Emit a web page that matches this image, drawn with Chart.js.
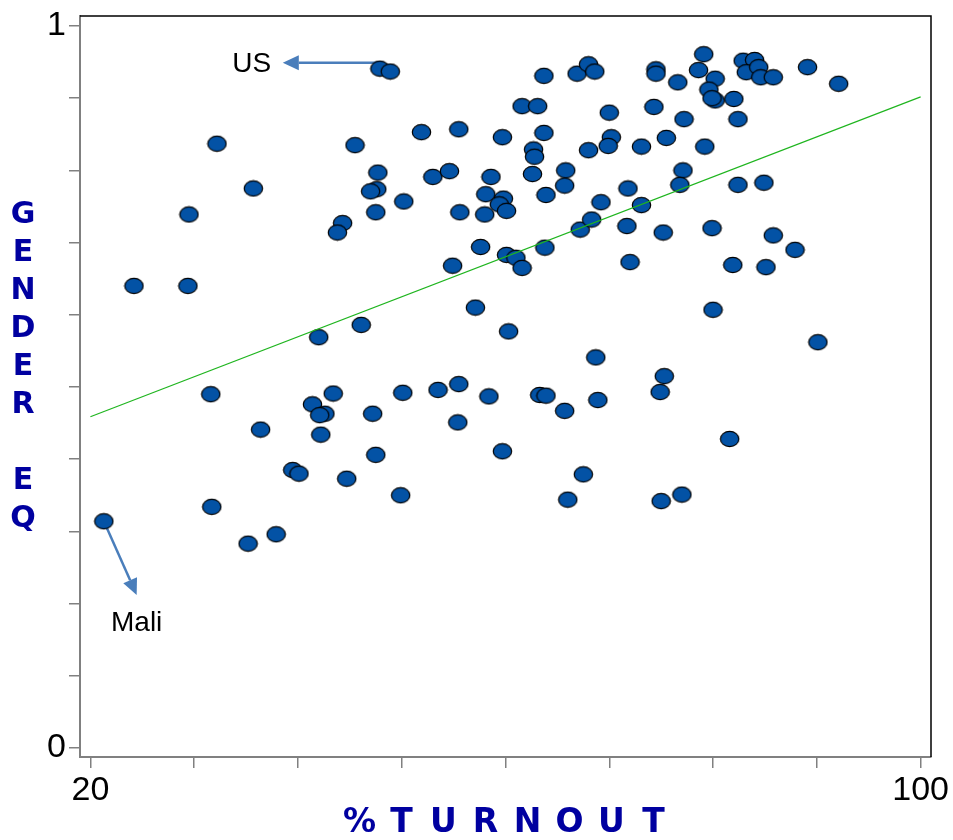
<!DOCTYPE html>
<html>
<head>
<meta charset="utf-8">
<script src="https://cdn.jsdelivr.net/npm/chart.js@4.4.1/dist/chart.umd.min.js"></script>
<style>
  html, body { margin: 0; padding: 0; background: #fff; }
  #wrap { width: 953px; height: 840px; position: relative; }
</style>
</head>
<body>
<div id="wrap"><canvas id="grafico"></canvas></div>
<script>
// datos
const turnout = [
  47.9, 48.9, 32.2, 35.7, 29.5, 24.2, 29.4, 45.5, 51.9, 55.5,
  47.7, 47.6, 47.0, 47.5, 50.2, 44.3, 43.8, 53.0, 54.6, 55.6,
  54.9, 63.7, 66.9, 68.0, 68.6, 74.5, 74.5, 76.6, 79.1, 78.6,
  80.2, 79.6, 80.2, 79.9, 82.0, 82.9, 84.0, 83.2, 84.4, 84.6,
  85.8, 89.1, 92.1, 61.6, 63.1, 70.0, 74.3, 77.2, 82.4, 59.7,
  63.7, 70.2, 69.9, 75.5, 62.7, 62.8, 68.0, 73.1, 79.2, 58.6,
  62.6, 65.8, 65.7, 63.9, 58.1, 59.8, 59.4, 60.1, 58.0, 71.8,
  69.2, 77.1, 76.8, 82.4, 84.9, 73.1, 71.7, 75.2, 79.9, 85.8,
  87.9, 67.2, 68.3, 57.6, 60.1, 61.0, 61.6, 63.8, 72.0, 81.9,
  85.1, 31.6, 42.0, 46.1, 57.1, 43.4, 41.4, 42.6, 42.1, 42.2,
  47.2, 50.1, 53.5, 55.5, 55.4, 36.4, 47.5, 39.5, 40.1, 44.7,
  49.9, 31.7, 21.3, 35.2, 37.9, 60.3, 68.7, 75.3, 74.9, 80.0,
  90.1, 58.4, 63.3, 63.9, 65.7, 68.9, 59.7, 67.5, 66.0, 75.0,
  77.0, 81.6
];
const genderEq = [
  0.941, 0.937, 0.837, 0.775, 0.739, 0.640, 0.640, 0.835, 0.853, 0.857,
  0.797, 0.774, 0.771, 0.742, 0.757, 0.727, 0.714, 0.791, 0.799, 0.742,
  0.668, 0.931, 0.934, 0.947, 0.937, 0.940, 0.934, 0.922, 0.961, 0.939,
  0.927, 0.912, 0.897, 0.900, 0.899, 0.952, 0.953, 0.936, 0.943, 0.929,
  0.929, 0.943, 0.920, 0.889, 0.889, 0.880, 0.888, 0.871, 0.871, 0.846,
  0.852, 0.846, 0.834, 0.845, 0.829, 0.819, 0.828, 0.833, 0.833, 0.791,
  0.795, 0.800, 0.779, 0.766, 0.767, 0.761, 0.753, 0.744, 0.739, 0.775,
  0.756, 0.800, 0.780, 0.780, 0.783, 0.752, 0.723, 0.714, 0.720, 0.710,
  0.690, 0.718, 0.732, 0.694, 0.683, 0.679, 0.665, 0.693, 0.673, 0.669,
  0.666, 0.490, 0.569, 0.586, 0.610, 0.491, 0.476, 0.463, 0.461, 0.434,
  0.463, 0.492, 0.496, 0.504, 0.451, 0.441, 0.406, 0.385, 0.380, 0.373,
  0.350, 0.334, 0.314, 0.283, 0.296, 0.577, 0.541, 0.515, 0.493, 0.607,
  0.562, 0.487, 0.489, 0.488, 0.467, 0.482, 0.411, 0.379, 0.344, 0.342,
  0.351, 0.428
];

// recta de ajuste
const trendX = [20, 100];
const trendY = [0.4588, 0.9018];

// ejes
const xTicks = [20, 30, 40, 50, 60, 70, 80, 90, 100];
const xLabels = ['20', '', '', '', '', '', '', '', '100'];
const yTicks = [0, 0.1, 0.2, 0.3, 0.4, 0.5, 0.6, 0.7, 0.8, 0.9, 1];
const yLabels = ['0', '', '', '', '', '', '', '', '', '', '1'];

// anotaciones (unidades de datos)
const notes = [
  { text: 'US', x: 35.55, y: 0.947, from: [47.9, 0.949], to: [38.54, 0.949] },
  { text: 'Mali', x: 24.46, y: 0.173, from: [21.3, 0.314], to: [24.46, 0.212] }
];

const yTitle = ['G', 'E', 'N', 'D', 'E', 'R', '', 'E', 'Q'];
const xTitle = ['%', 'T', 'U', 'R', 'N', 'O', 'U', 'T'];

const AZUL = '#0000a0';
const GRIS = '#808080';
const FUENTE_TITULO = '"DejaVu Sans", Verdana, sans-serif';

// marcador eliptico
function crearElipse() {
    const c = document.createElement('canvas');
    c.width = 21;
    c.height = 18;
    const g = c.getContext('2d');
    g.beginPath();
    g.ellipse(10.5, 9, 9.2, 7.6, 0, 0, Math.PI * 2);
    g.fillStyle = '#0352a5';
    g.fill();
    g.lineWidth = 1.2;
    g.strokeStyle = '#000';
    g.stroke();
    return c;
}

function flecha(ctx, x1, y1, x2, y2) {
    const ang = Math.atan2(y2 - y1, x2 - x1);
    const largo = 16, ancho = 7.5;
    const bx = x2 - Math.cos(ang) * largo;
    const by = y2 - Math.sin(ang) * largo;
    ctx.beginPath();
    ctx.moveTo(x1, y1);
    ctx.lineTo(bx, by);
    ctx.stroke();
    ctx.beginPath();
    ctx.moveTo(x2, y2);
    ctx.lineTo(bx + Math.sin(ang) * ancho, by - Math.cos(ang) * ancho);
    ctx.lineTo(bx - Math.sin(ang) * ancho, by + Math.cos(ang) * ancho);
    ctx.closePath();
    ctx.fill();
}

const anotaciones = {
    id: 'anotaciones',
    beforeDatasetsDraw(chart) {
        const { ctx, scales: { x, y } } = chart;
        ctx.save();
        ctx.strokeStyle = '#4a7ebb';
        ctx.fillStyle = '#4a7ebb';
        ctx.lineWidth = 2.5;
        notes.forEach(n => {
            flecha(ctx, x.getPixelForValue(n.from[0]), y.getPixelForValue(n.from[1]),
                x.getPixelForValue(n.to[0]), y.getPixelForValue(n.to[1]));
        });
        ctx.fillStyle = '#000';
        ctx.font = '28px "Liberation Sans", Arial, sans-serif';
        ctx.textAlign = 'center';
        ctx.textBaseline = 'middle';
        notes.forEach(n => {
            ctx.fillText(n.text, x.getPixelForValue(n.x), y.getPixelForValue(n.y));
        });
        ctx.restore();
    },
    afterDraw(chart) {
        const { ctx, chartArea: a } = chart;
        ctx.save();
        // marco superior y derecho
        ctx.strokeStyle = '#000';
        ctx.lineWidth = 1.5;
        ctx.beginPath();
        ctx.moveTo(a.left, a.top);
        ctx.lineTo(a.right, a.top);
        ctx.lineTo(a.right, a.bottom);
        ctx.stroke();

        // titulos de ejes
        ctx.fillStyle = AZUL;
        ctx.textAlign = 'center';
        ctx.textBaseline = 'middle';
        ctx.font = 'bold 30px ' + FUENTE_TITULO;
        yTitle.forEach((l, i) => {
            if (l) ctx.fillText(l, 23, 215 + i * 38);
        });
        ctx.font = 'bold 33px ' + FUENTE_TITULO;
        const cx = (a.left + a.right) / 2;
        xTitle.forEach((l, i) => {
            ctx.fillText(l, cx - 146 + i * 42, 823);
        });
        ctx.restore();
    }
};

const ctx = document.getElementById('grafico').getContext('2d');
new Chart(ctx, {
    type: 'scatter',
    data: {
        datasets: [{
            type: 'line',
            data: trendX.map((v, i) => ({ x: v, y: trendY[i] })),
            borderColor: '#1fb51f',
            borderWidth: 1.2,
            pointRadius: 0,
            fill: false,
            order: 0
        }, {
            data: turnout.map((v, i) => ({ x: v, y: genderEq[i] })),
            pointStyle: crearElipse(),
            pointRadius: 9,
            order: 1
        }]
    },
    options: {
        responsive: true,
        maintainAspectRatio: false,
        animation: false,
        layout: { padding: { top: 16, right: 22, left: 0, bottom: 0 } },
        plugins: {
            legend: { display: false },
            tooltip: { enabled: false }
        },
        scales: {
            x: {
                type: 'linear',
                min: 19,
                max: 101,
                afterBuildTicks: s => { s.ticks = xTicks.map(v => ({ value: v })); },
                afterFit: s => { s.height = 83; s.paddingLeft = 0; s.paddingRight = 0; },
                border: { color: GRIS, width: 2 },
                grid: { drawOnChartArea: false, color: GRIS, tickColor: GRIS, tickLength: 11, lineWidth: 1.5 },
                ticks: {
                    autoSkip: false,
                    maxRotation: 0,
                    padding: 2,
                    color: '#000',
                    font: { family: '"Liberation Sans", Arial, sans-serif', size: 34 },
                    callback: (v, i) => xLabels[i]
                }
            },
            y: {
                min: -0.0125,
                max: 1.0139,
                afterBuildTicks: s => { s.ticks = yTicks.map(v => ({ value: v })); },
                afterFit: s => { s.width = 80; s.paddingTop = 0; s.paddingBottom = 0; },
                border: { color: GRIS, width: 2 },
                grid: { drawOnChartArea: false, color: GRIS, tickColor: GRIS, tickLength: 11, lineWidth: 1.5 },
                ticks: {
                    autoSkip: false,
                    padding: 3,
                    color: '#000',
                    font: { family: '"Liberation Sans", Arial, sans-serif', size: 34 },
                    callback: (v, i) => yLabels[i]
                }
            }
        }
    },
    plugins: [anotaciones]
});
</script>
</body>
</html>
